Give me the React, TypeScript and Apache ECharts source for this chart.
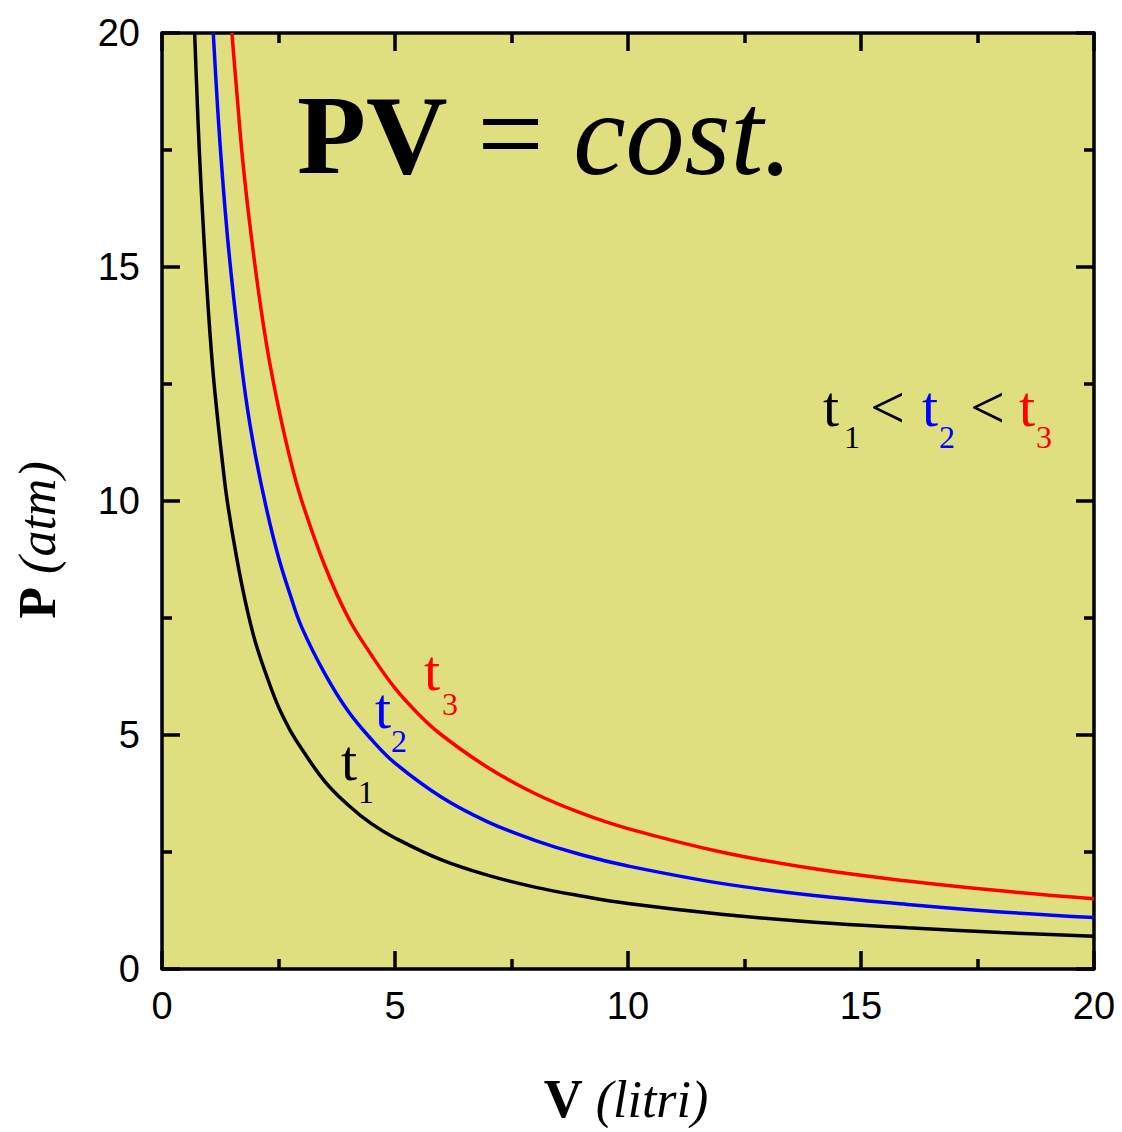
import { useEffect, useRef } from "react";
import * as echarts from "echarts";

// Isotherms: volume V (litri) and pressure P (atm)
const volumeT1 = [0.7, 0.75, 0.8, 0.9, 1.0, 1.1, 1.2, 1.3, 1.4, 1.6, 1.8, 2.0, 2.25, 2.5, 2.75, 3.0, 3.5, 4.0, 4.5, 5, 6, 7, 8, 9, 10, 12, 14, 16, 18, 20];
const pressureT1 = [20, 18.7, 17.5, 15.6, 14.0, 12.7, 11.7, 10.8, 10.0, 8.8, 7.8, 7.0, 6.25, 5.6, 5.1, 4.7, 4.0, 3.5, 3.1, 2.8, 2.33, 2.0, 1.75, 1.56, 1.4, 1.17, 1.0, 0.88, 0.78, 0.7];

const volumeT2 = [1.1, 1.2, 1.3, 1.4, 1.5, 1.6, 1.8, 2.0, 2.25, 2.5, 2.75, 3.0, 3.5, 4.0, 4.5, 5, 6, 7, 8, 9, 10, 12, 14, 16, 18, 20];
const pressureT2 = [20, 18.3, 16.9, 15.7, 14.7, 13.8, 12.2, 11.0, 9.8, 8.8, 8.0, 7.3, 6.3, 5.5, 4.9, 4.4, 3.67, 3.14, 2.75, 2.44, 2.2, 1.83, 1.57, 1.38, 1.22, 1.1];

const volumeT3 = [1.5, 1.6, 1.75, 2.0, 2.25, 2.5, 2.75, 3.0, 3.5, 4.0, 4.5, 5, 5.5, 6, 7, 8, 9, 10, 12, 14, 16, 18, 20];
const pressureT3 = [20, 18.8, 17.1, 15.0, 13.3, 12.0, 10.9, 10.0, 8.6, 7.5, 6.7, 6.0, 5.45, 5.0, 4.3, 3.75, 3.33, 3.0, 2.5, 2.14, 1.88, 1.67, 1.5];

const axisMin = 0;
const axisMax = 20;
const axisStep = 5;

const SERIF = "Liberation Serif";
const SANS = "Liberation Sans";
const PLOT_BG = "#e0df80";

const zip = (xs: number[], ys: number[]) => xs.map((x, i) => [x, ys[i]]);

function tText(x: number, y: number, text: string, color: string, size: number) {
  return {
    type: "text",
    x,
    y,
    z: 100,
    style: {
      text,
      fill: color,
      font: `${size}px "${SERIF}"`,
      align: "left",
      verticalAlign: "middle",
    },
  };
}

export default function App() {
  const ref = useRef<HTMLDivElement>(null);

  useEffect(() => {
    document.body.style.margin = "0";
    if (!ref.current) return;
    const chart = echarts.init(ref.current, undefined, { renderer: "svg" });

    const tickCommon = {
      inside: true,
      length: 18,
      lineStyle: { color: "#000", width: 3.5 },
    };
    const minorCommon = {
      show: true,
      splitNumber: 2,
      length: 10,
      lineStyle: { color: "#000", width: 3.5 },
    };
    const axisLineCommon = { show: true, onZero: false, lineStyle: { color: "#000", width: 3.5 } };

    const lineSeries = (name: string, xs: number[], ys: number[], color: string) => ({
      name,
      type: "line",
      data: zip(xs, ys),
      smooth: 0.4,
      showSymbol: false,
      clip: true,
      lineStyle: { color, width: 3.5 },
      itemStyle: { color },
    });

    const option: any = {
      animation: false,
      grid: {
        left: 162,
        top: 33,
        right: 28,
        bottom: 163,
        show: true,
        backgroundColor: PLOT_BG,
        borderWidth: 0,
      },
      xAxis: [
        {
          type: "value",
          min: axisMin,
          max: axisMax,
          interval: axisStep,
          position: "bottom",
          axisLine: axisLineCommon,
          axisTick: tickCommon,
          minorTick: minorCommon,
          splitLine: { show: false },
          axisLabel: { color: "#000", fontFamily: SANS, fontSize: 38, margin: 18 },
        },
        {
          type: "value",
          min: axisMin,
          max: axisMax,
          interval: axisStep,
          position: "top",
          axisLine: axisLineCommon,
          axisTick: tickCommon,
          minorTick: minorCommon,
          splitLine: { show: false },
          axisLabel: { show: false },
        },
      ],
      yAxis: [
        {
          type: "value",
          min: axisMin,
          max: axisMax,
          interval: axisStep,
          position: "left",
          axisLine: axisLineCommon,
          axisTick: tickCommon,
          minorTick: minorCommon,
          splitLine: { show: false },
          axisLabel: {
            color: "#000",
            fontFamily: SANS,
            fontSize: 38,
            margin: 22,
            verticalAlign: "middle",
            padding: [0, 0, 10, 0],
          },
        },
        {
          type: "value",
          min: axisMin,
          max: axisMax,
          interval: axisStep,
          position: "right",
          axisLine: axisLineCommon,
          axisTick: tickCommon,
          minorTick: minorCommon,
          splitLine: { show: false },
          axisLabel: { show: false },
        },
      ],
      series: [
        lineSeries("t1", volumeT1, pressureT1, "#000000"),
        lineSeries("t2", volumeT2, pressureT2, "#0000ff"),
        lineSeries("t3", volumeT3, pressureT3, "#ff0000"),
      ],
      graphic: [
        // Title formula
        {
          type: "text",
          x: 297,
          y: 134,
          z: 100,
          style: {
            text: "{b|PV} {n|=} {i|cost.}",
            align: "left",
            verticalAlign: "middle",
            fill: "#000",
            rich: {
              b: { fontFamily: SERIF, fontSize: 113, fontWeight: "bold", fill: "#000" },
              n: { fontFamily: SERIF, fontSize: 118, fill: "#000" },
              i: { fontFamily: SERIF, fontSize: 118, fontStyle: "italic", fill: "#000" },
            },
            font: `118px "${SERIF}"`,
          },
        },
        // X axis title
        {
          type: "text",
          x: 626,
          y: 1099,
          z: 100,
          style: {
            text: "{b|V} {i|(litri)}",
            align: "center",
            verticalAlign: "middle",
            fill: "#000",
            font: `52px "${SERIF}"`,
            rich: {
              b: { fontFamily: SERIF, fontSize: 54, fontWeight: "bold", fill: "#000" },
              i: { fontFamily: SERIF, fontSize: 52, fontStyle: "italic", fill: "#000" },
            },
          },
        },
        // Y axis title
        {
          type: "text",
          x: 37,
          y: 540,
          rotation: Math.PI / 2,
          z: 100,
          style: {
            text: "{b|P} {i|(atm)}",
            align: "center",
            verticalAlign: "middle",
            fill: "#000",
            font: `52px "${SERIF}"`,
            rich: {
              b: { fontFamily: SERIF, fontSize: 52, fontWeight: "bold", fill: "#000" },
              i: { fontFamily: SERIF, fontSize: 52, fontStyle: "italic", fill: "#000" },
            },
          },
        },
        // Relation t1 < t2 < t3
        tText(823, 406, "t", "#000000", 58),
        tText(844, 437, "1", "#000000", 32),
        tText(870, 407, "<", "#000000", 62),
        tText(922, 406, "t", "#0000ff", 58),
        tText(939, 437, "2", "#0000ff", 32),
        tText(970, 407, "<", "#000000", 62),
        tText(1019, 406, "t", "#ff0000", 58),
        tText(1036, 437, "3", "#ff0000", 32),
        // Curve labels
        tText(424, 670, "t", "#ff0000", 58),
        tText(442, 704, "3", "#ff0000", 32),
        tText(375, 708, "t", "#0000ff", 58),
        tText(391, 741, "2", "#0000ff", 32),
        tText(341, 760, "t", "#000000", 58),
        tText(358, 792, "1", "#000000", 32),
      ],
    };

    chart.setOption(option);
    return () => chart.dispose();
  }, []);

  return <div ref={ref} style={{ width: 1122, height: 1132 }} />;
}
